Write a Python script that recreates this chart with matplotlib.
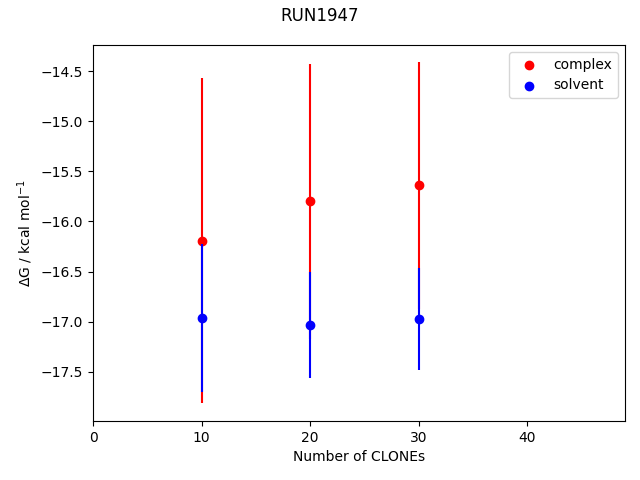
import numpy as np
import matplotlib
matplotlib.use('Agg')
import matplotlib.pyplot as plt

clones = [10, 20, 30]
complex_dg = [-16.19, -15.80, -15.64]
complex_err = [1.62, 1.37, 1.23]
solvent_dg = [-16.96, -17.03, -16.97]
solvent_err = [0.74, 0.53, 0.51]

fig, ax = plt.subplots(figsize=(6.4, 4.8), dpi=100)

ax.errorbar(clones, complex_dg, yerr=complex_err, ls='none', color='red')
ax.scatter(clones, complex_dg, color='red', label='complex')
ax.errorbar(clones, solvent_dg, yerr=solvent_err, ls='none', color='blue')
ax.scatter(clones, solvent_dg, color='blue', label='solvent')

ax.set_xlim(0, 49)
ax.set_ylim(-17.99, -14.24)
ax.set_xlabel('Number of CLONEs')
ax.set_ylabel(r'$\Delta$G / kcal mol$^{-1}$')
ax.legend(loc='upper right')
fig.suptitle('RUN1947', y=0.985)
fig.subplots_adjust(left=93/640, right=625/640, top=1-45/480, bottom=1-421/480)
fig.savefig('out.png')
